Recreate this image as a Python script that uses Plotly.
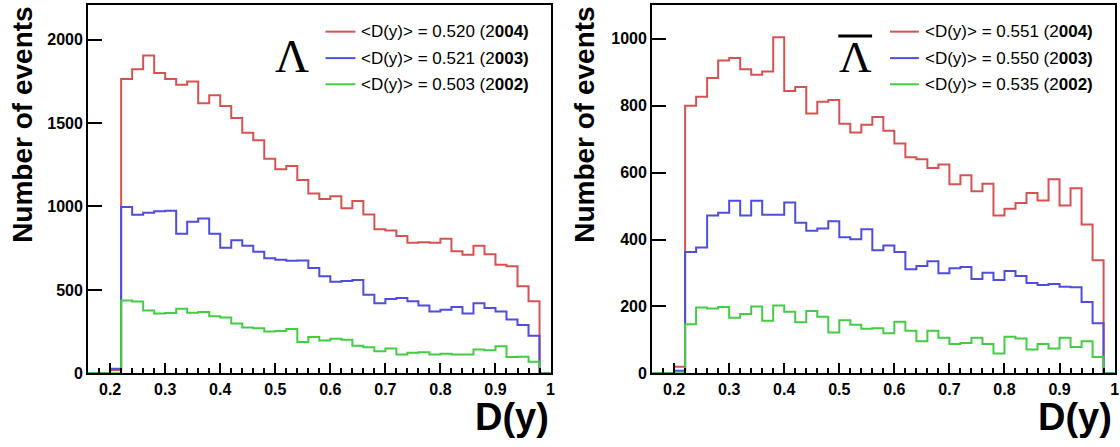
import plotly.graph_objects as go

# ---------------- data ----------------
bin_width = 0.02
bin_low = [round(0.16 + bin_width * i, 2) for i in range(42)]   # 0.16 ... 0.98

lam_2004 = [0, 0, 20, 1764, 1823, 1905, 1800, 1764, 1729, 1749, 1618, 1667, 1602, 1530, 1442,
            1397, 1286, 1223, 1243, 1159, 1077, 1045, 1061, 989, 1032, 952, 864, 856, 823, 782,
            786, 782, 806, 731, 711, 764, 714, 651, 641, 522, 432, 0]
lam_2003 = [0, 0, 28, 997, 950, 963, 971, 975, 836, 909, 928, 836, 752, 797, 764, 729, 690, 680,
            674, 676, 631, 582, 549, 553, 559, 471, 420, 446, 451, 432, 406, 371, 381, 397, 358,
            420, 391, 371, 322, 289, 225, 0]
lam_2002 = [0, 0, 0, 436, 430, 377, 358, 361, 387, 363, 367, 342, 334, 299, 274, 270, 250, 254,
            266, 188, 217, 197, 207, 201, 166, 156, 133, 149, 113, 123, 127, 113, 117, 113, 113,
            143, 139, 162, 98, 100, 70, 0]

alam_2004 = [0, 0, 20, 800, 827, 883, 935, 943, 909, 893, 902, 1005, 844, 856, 777, 812, 817,
             746, 720, 743, 766, 725, 687, 646, 640, 614, 624, 565, 592, 544, 567, 472, 492, 509,
             539, 517, 580, 502, 553, 445, 338, 0]
alam_2003 = [0, 0, 8, 363, 376, 472, 480, 516, 472, 516, 474, 474, 511, 450, 426, 433, 455, 407,
             401, 431, 368, 382, 363, 311, 321, 335, 299, 314, 318, 282, 301, 279, 306, 291, 270,
             264, 267, 259, 257, 213, 150, 0]
alam_2002 = [0, 0, 0, 147, 197, 194, 198, 166, 177, 200, 157, 203, 184, 153, 186, 169, 122, 159,
             145, 133, 135, 120, 154, 127, 96, 127, 106, 88, 91, 106, 88, 59, 109, 104, 71, 88, 74,
             106, 79, 96, 49, 0]

years = ["2004", "2003", "2002"]
lam_means = ["0.520", "0.521", "0.503"]
alam_means = ["0.551", "0.550", "0.535"]

x_title = "D(y)"
y_title = "Number of events"

# ---------------- style ----------------
W, H = 1120, 447
colors = ["#d65252", "#4d4dde", "#45cc45"]
FONT = "Liberation Sans, Arial, sans-serif"
SERIF = "Liberation Serif, Times New Roman, serif"

left_px = (88.5, 553)
right_px = (655, 1119.6)
top_px, bot_px = 5.5, 381

def px_x(p):
    return p / W

def px_y(p):
    return (H - p) / H

fig = go.Figure()

edges = bin_low + [round(bin_low[-1] + bin_width, 2)]

def add_hist(vals, color, xa, ya):
    fig.add_trace(go.Scatter(
        x=edges, y=vals + [vals[-1]], mode="lines", line_shape="hv",
        line=dict(color=color, width=2), xaxis=xa, yaxis=ya,
        showlegend=False, hoverinfo="skip"))

for vals, c in zip([lam_2004, lam_2003, lam_2002], colors):
    add_hist(vals, c, "x", "y")
for vals, c in zip([alam_2004, alam_2003, alam_2002], colors):
    add_hist(vals, c, "x2", "y2")

tickfont = dict(family=FONT, size=16, color="black", weight="bold")

common_x = dict(range=[0.16, 1.0], dtick=0.1, tick0=0, ticks="inside", ticklen=10,
                tickwidth=1.5, tickcolor="black", showline=True, linecolor="black",
                linewidth=2, mirror=True, showgrid=False, zeroline=False,
                tickfont=tickfont,
                minor=dict(dtick=0.02, tick0=0, ticks="inside", ticklen=5,
                           tickwidth=1.5, tickcolor="black", showgrid=False))
common_y = dict(ticks="inside", ticklen=14, tickwidth=1.5, tickcolor="black",
                showline=True, linecolor="black", linewidth=2, mirror=True,
                showgrid=False, zeroline=False, tickfont=tickfont)

fig.update_layout(
    width=W, height=H, autosize=False, margin=dict(l=0, r=0, t=0, b=0),
    paper_bgcolor="white", plot_bgcolor="white",
    xaxis=dict(domain=[px_x(left_px[0]), px_x(left_px[1])], anchor="y", **common_x),
    yaxis=dict(domain=[px_y(bot_px), px_y(top_px)], anchor="x", range=[0, 2205],
               dtick=500, **common_y),
    xaxis2=dict(domain=[px_x(right_px[0]), px_x(right_px[1])], anchor="y2", **common_x),
    yaxis2=dict(domain=[px_y(bot_px), px_y(top_px)], anchor="x2", range=[0, 1100],
                dtick=200, **common_y),
)

ann = []
shapes = []

for xc in (23, 587.5):
    ann.append(dict(text=y_title, x=px_x(xc), y=px_y(126.5), xref="paper", yref="paper",
                    textangle=-90, showarrow=False, xanchor="center", yanchor="middle",
                    font=dict(family=FONT, size=28, color="black", weight="bold")))
for xr in (553, 1119):
    ann.append(dict(text=x_title, x=px_x(xr), y=px_y(426), xref="paper", yref="paper",
                    showarrow=False, xanchor="right", yanchor="middle",
                    font=dict(family=FONT, size=38, color="black", weight="bold")))

rows = [32.3, 59.3, 86]
for (lx0, lx1, tx, means) in [(327, 357, 361, lam_means), (894, 923, 927, alam_means)]:
    for r, c, m, yr in zip(rows, colors, means, years):
        shapes.append(dict(type="line", xref="paper", yref="paper",
                           x0=px_x(lx0), x1=px_x(lx1), y0=px_y(r), y1=px_y(r),
                           line=dict(color=c, width=2)))
        ann.append(dict(text=f"&lt;D(y)&gt; = {m} ({yr[0]}<b>{yr[1:]})</b>",
                        x=px_x(tx), y=px_y(r), xref="paper", yref="paper",
                        showarrow=False, xanchor="left", yanchor="middle",
                        font=dict(family=FONT, size=17, color="black")))

ann.append(dict(text="Λ", x=px_x(293.5), y=px_y(57.5), xref="paper", yref="paper",
                showarrow=False, xanchor="center", yanchor="middle",
                font=dict(family=SERIF, size=47, color="black")))
ann.append(dict(text="Λ", x=px_x(859), y=px_y(58.5), xref="paper", yref="paper",
                showarrow=False, xanchor="center", yanchor="middle",
                font=dict(family=SERIF, size=45, color="black")))
shapes.append(dict(type="line", xref="paper", yref="paper",
                   x0=px_x(842), x1=px_x(876), y0=px_y(36.7), y1=px_y(36.7),
                   line=dict(color="black", width=3)))

fig.update_layout(annotations=ann, shapes=shapes)

fig.write_html("out.html", config={"displayModeBar": False, "responsive": False},
               post_script="document.body.style.margin='0';document.body.style.overflow='hidden';")
